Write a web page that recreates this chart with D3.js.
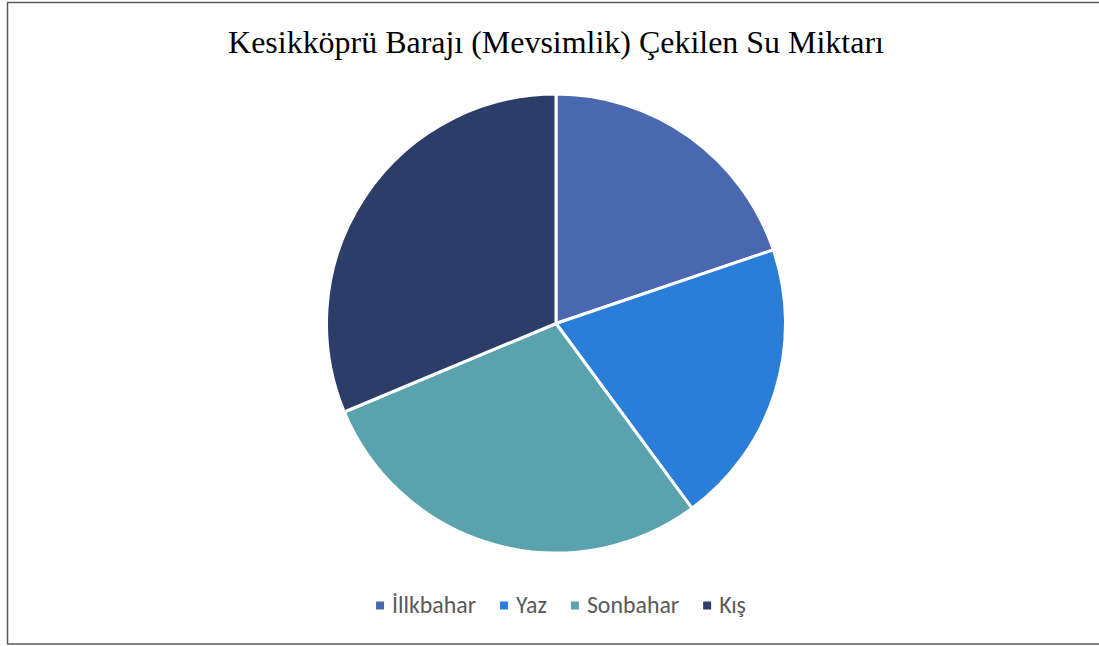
<!DOCTYPE html>
<html><head><meta charset="utf-8">
<script src="https://cdn.jsdelivr.net/npm/d3@7"></script>
<style>html,body{margin:0;padding:0;background:#fff;}svg{display:block;}</style>
</head><body>
<svg id="c" width="1099" height="646"></svg>
<script>
const title = "Kesikköprü Barajı (Mevsimlik) Çekilen Su Miktarı";
const categories = ["İllkbahar", "Yaz", "Sonbahar", "Kış"];
const values = [19.8, 20.1, 28.8, 31.3];
const colors = ["#4A68AF", "#2A7ED7", "#5AA3AE", "#2C3D68"];

const svg = d3.select("#c");
svg.append("rect").attr("x", 7.5).attr("y", 2.5).attr("width", 1100).attr("height", 641.5)
  .attr("fill", "#fff").attr("stroke", "#5a5a5a").attr("stroke-width", 1.5);

const cx = 556, cy = 323.5, r = 229.5;

const t = svg.append("text").attr("x", cx).attr("y", 53).attr("text-anchor", "middle")
  .attr("font-family", "Liberation Serif, Times New Roman, serif").attr("font-size", 29)
  .attr("fill", "#000").text(title);
const tw = t.node().getComputedTextLength();
t.attr("font-size", 29 * 656 / tw);

const data = categories.map((c, i) => ({ c, v: values[i], col: colors[i] }));
const pie = d3.pie().value(d => d.v).sort(null);
const arc = d3.arc().innerRadius(0).outerRadius(r);
const g = svg.append("g").attr("transform", `translate(${cx},${cy})`);
g.selectAll("path").data(pie(data)).join("path")
  .attr("d", arc).attr("fill", d => d.data.col)
  .attr("stroke", "#fff").attr("stroke-width", 3).attr("stroke-linejoin", "round");

// legend
const lg = svg.append("g");
const ff = "Carlito, Lato, sans-serif";
const items = lg.selectAll("g").data(data).join("g");
items.append("rect").attr("width", 8).attr("height", 8).attr("y", 601.5).attr("fill", d => d.col);
const texts = items.append("text").attr("x", 16).attr("y", 612.5).attr("font-family", ff).attr("font-size", 19)
  .attr("fill", "#595959").text(d => d.c);
const w0 = texts.nodes()[0].getComputedTextLength();
texts.attr("font-size", 19 * 84 / w0);
let x = 0;
const gap = 24;
items.each(function() {
  const w = d3.select(this).select("text").node().getComputedTextLength();
  d3.select(this).attr("transform", `translate(${x},0)`);
  x += 16 + w + gap;
});
const total = x - gap;
lg.attr("transform", `translate(${cx + 5 - total / 2},0)`);
</script>
</body></html>
